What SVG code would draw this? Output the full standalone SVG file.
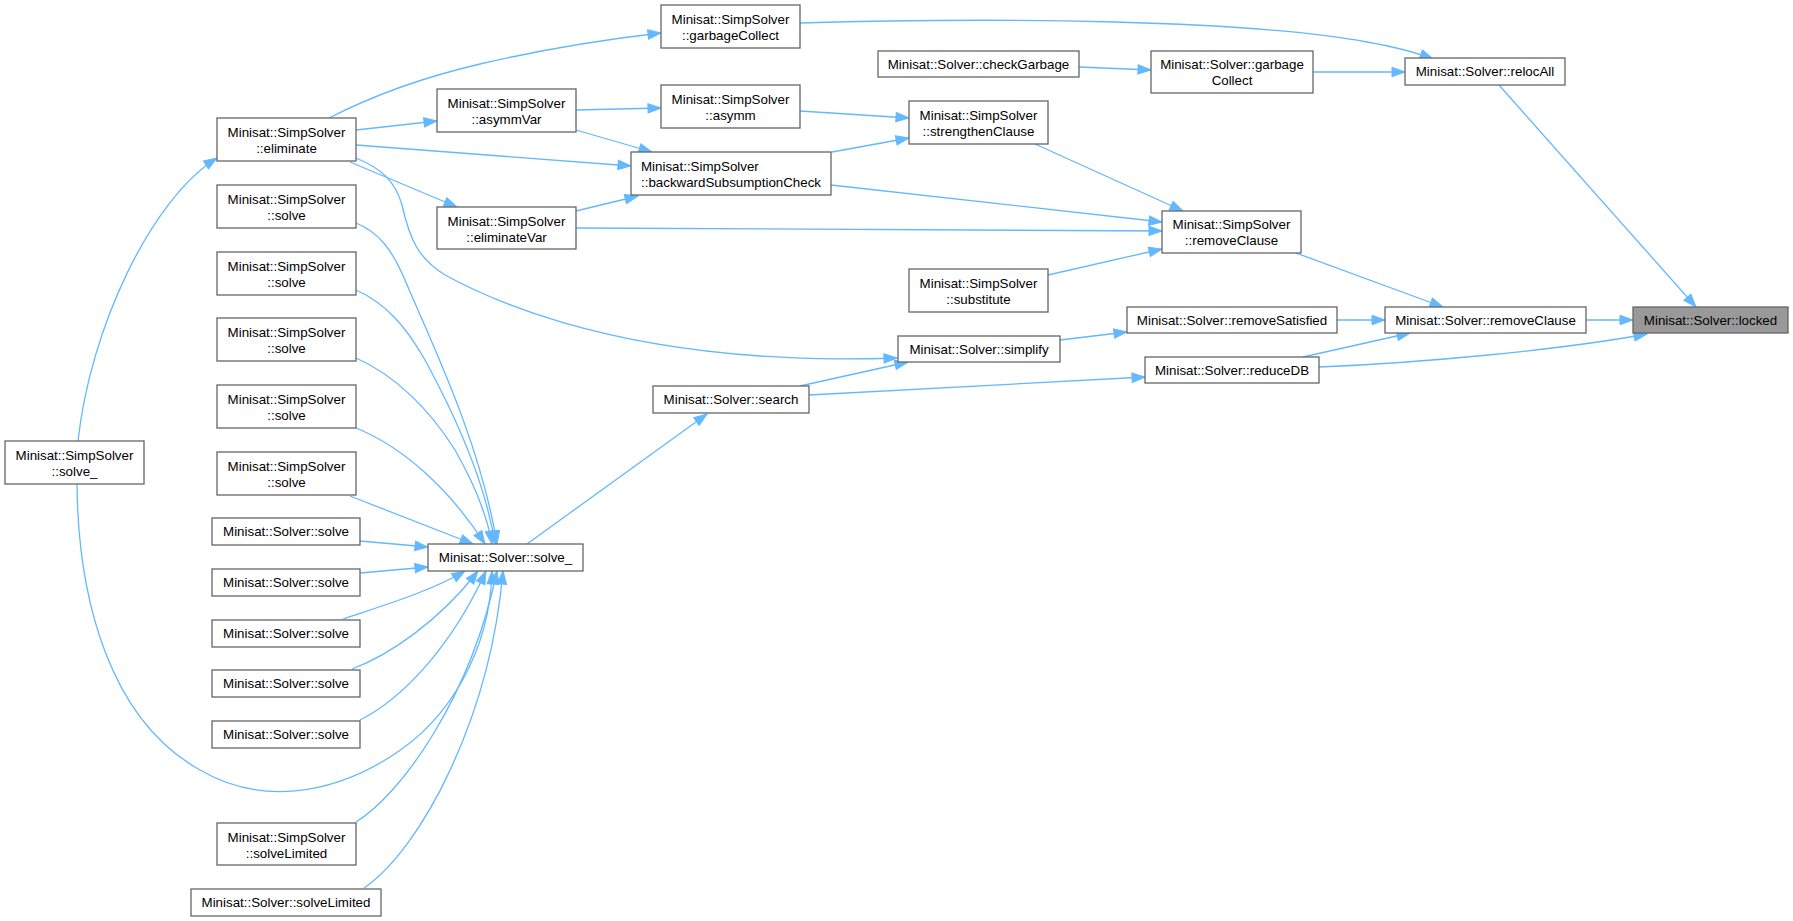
<svg xmlns="http://www.w3.org/2000/svg" width="1793" height="921" viewBox="0 0 1793 921">
<style>
.node rect{fill:#ffffff;stroke:#666666;stroke-width:1.3}
.node text{font-family:"Liberation Sans",Arial,sans-serif;font-size:13.33px;fill:#000000;text-anchor:middle}
.node text.l{text-anchor:start}
#n_locked rect{fill:#999999}
.edges path{fill:none;stroke:#63b8ff;stroke-width:1.3;marker-end:url(#arr)}
</style>
<defs>
<marker id="arr" markerUnits="userSpaceOnUse" markerWidth="14" markerHeight="10" refX="13" refY="4.7" orient="auto" overflow="visible">
<path d="M0,0 L13,4.7 L0,9.4 z" fill="#63b8ff" stroke="#63b8ff" stroke-width="1"/>
</marker>
</defs>
<rect width="1793" height="921" fill="#ffffff"/>
<g class="edges" id="edges">
<path d="M1499,85 L1696,307"/>
<path d="M1586,320 L1633,320"/>
<path d="M1319,367 C1420,363 1560,350 1647,334"/>
<path d="M800,23 C1000,17 1250,20 1367,42 C1395,47 1415,52 1433,59"/>
<path d="M1313,72 L1405,72"/>
<path d="M1079,67 L1151,70"/>
<path d="M1296,253 L1443,307"/>
<path d="M1337,320 L1385,320"/>
<path d="M1303,357 L1410,333"/>
<path d="M1035,144 L1183,211"/>
<path d="M831,185 L1162,222"/>
<path d="M576,228 C800,229 1000,230 1162,231"/>
<path d="M1048,275 L1162,249"/>
<path d="M800,111 L909,118"/>
<path d="M832,152 L909,138"/>
<path d="M1060,340 L1127,332"/>
<path d="M809,395 L1145,377"/>
<path d="M800,386 L908,362"/>
<path d="M356,158 C380,168 395,180 402,205 C410,240 418,258 445,275 C500,305 600,345 760,356 C820,360 860,359 897,358"/>
<path d="M356,130 L437,121"/>
<path d="M356,145 L631,166"/>
<path d="M350,162 L457,207"/>
<path d="M329,118 C370,97 420,78 480,64 C540,50 600,40 661,33"/>
<path d="M576,110 L661,108"/>
<path d="M576,130 L652,152"/>
<path d="M576,211 L638,196"/>
<path d="M527,544 L707,414"/>
<path d="M78,441 C90,330 150,200 217,158"/>
<path d="M77,484 C78,600 110,720 200,770 C260,805 330,795 390,757 C450,720 490,650 492,571"/>
<path d="M356,223 C380,233 392,250 405,280 C430,340 480,440 497,544"/>
<path d="M356,290 C385,303 405,325 425,360 C455,415 485,480 495,544"/>
<path d="M356,358 C395,375 430,410 455,450 C475,485 487,515 492,544"/>
<path d="M356,428 C405,448 450,490 485,544"/>
<path d="M350,496 L473,544"/>
<path d="M360,541 L428,547"/>
<path d="M360,573 L428,567"/>
<path d="M343,619 C375,608 430,592 465,571"/>
<path d="M352,669 C390,655 440,620 478,571"/>
<path d="M360,720 C400,700 450,650 486,571"/>
<path d="M356,822 C400,795 470,700 497,571"/>
<path d="M364,888 C420,850 490,720 503,571"/>
</g>
<g class="node" id="n_locked"><rect x="1633" y="307" width="155" height="26"/><text x="1710.5" y="325">Minisat::Solver::locked</text></g>
<g class="node" id="n_relocAll"><rect x="1405" y="58" width="160" height="27"/><text x="1485" y="76">Minisat::Solver::relocAll</text></g>
<g class="node" id="n_solver_removeClause"><rect x="1385" y="307" width="201" height="26"/><text x="1485.5" y="325">Minisat::Solver::removeClause</text></g>
<g class="node" id="n_solver_garbageCollect"><rect x="1151" y="51" width="162" height="42"/><text x="1232" y="69">Minisat::Solver::garbage</text><text x="1232" y="85">Collect</text></g>
<g class="node" id="n_simp_removeClause"><rect x="1162" y="211" width="139" height="42"/><text x="1231.5" y="229">Minisat::SimpSolver</text><text x="1231.5" y="245">::removeClause</text></g>
<g class="node" id="n_removeSatisfied"><rect x="1127" y="307" width="210" height="26"/><text x="1232" y="325">Minisat::Solver::removeSatisfied</text></g>
<g class="node" id="n_reduceDB"><rect x="1145" y="357" width="174" height="26"/><text x="1232" y="375">Minisat::Solver::reduceDB</text></g>
<g class="node" id="n_checkGarbage"><rect x="878" y="51" width="201" height="26"/><text x="978.5" y="69">Minisat::Solver::checkGarbage</text></g>
<g class="node" id="n_strengthenClause"><rect x="909" y="101" width="139" height="43"/><text x="978.5" y="120">Minisat::SimpSolver</text><text x="978.5" y="136">::strengthenClause</text></g>
<g class="node" id="n_substitute"><rect x="909" y="269" width="139" height="43"/><text x="978.5" y="288">Minisat::SimpSolver</text><text x="978.5" y="304">::substitute</text></g>
<g class="node" id="n_simplify"><rect x="898" y="336" width="162" height="26"/><text x="979" y="354">Minisat::Solver::simplify</text></g>
<g class="node" id="n_simp_garbageCollect"><rect x="661" y="5" width="139" height="43"/><text x="730.5" y="24">Minisat::SimpSolver</text><text x="730.5" y="40">::garbageCollect</text></g>
<g class="node" id="n_asymm"><rect x="661" y="85" width="139" height="43"/><text x="730.5" y="104">Minisat::SimpSolver</text><text x="730.5" y="120">::asymm</text></g>
<g class="node" id="n_backwardSubsumptionCheck"><rect x="631" y="152" width="200" height="43"/><text class="l" x="641" y="171">Minisat::SimpSolver</text><text class="l" x="641" y="187">::backwardSubsumptionCheck</text></g>
<g class="node" id="n_search"><rect x="653" y="386" width="156" height="27"/><text x="731" y="404">Minisat::Solver::search</text></g>
<g class="node" id="n_asymmVar"><rect x="437" y="89" width="139" height="43"/><text x="506.5" y="108">Minisat::SimpSolver</text><text x="506.5" y="124">::asymmVar</text></g>
<g class="node" id="n_eliminateVar"><rect x="437" y="207" width="139" height="42"/><text x="506.5" y="226">Minisat::SimpSolver</text><text x="506.5" y="242">::eliminateVar</text></g>
<g class="node" id="n_solver_solve_"><rect x="428" y="544" width="155" height="27"/><text x="505.5" y="562">Minisat::Solver::solve_</text></g>
<g class="node" id="n_eliminate"><rect x="217" y="118" width="139" height="43"/><text x="286.5" y="137">Minisat::SimpSolver</text><text x="286.5" y="153">::eliminate</text></g>
<g class="node" id="n_simp_solve1"><rect x="217" y="185" width="139" height="43"/><text x="286.5" y="204">Minisat::SimpSolver</text><text x="286.5" y="220">::solve</text></g>
<g class="node" id="n_simp_solve2"><rect x="217" y="252" width="139" height="43"/><text x="286.5" y="271">Minisat::SimpSolver</text><text x="286.5" y="287">::solve</text></g>
<g class="node" id="n_simp_solve3"><rect x="217" y="318" width="139" height="43"/><text x="286.5" y="337">Minisat::SimpSolver</text><text x="286.5" y="353">::solve</text></g>
<g class="node" id="n_simp_solve4"><rect x="217" y="385" width="139" height="43"/><text x="286.5" y="404">Minisat::SimpSolver</text><text x="286.5" y="420">::solve</text></g>
<g class="node" id="n_simp_solve5"><rect x="217" y="452" width="139" height="43"/><text x="286.5" y="471">Minisat::SimpSolver</text><text x="286.5" y="487">::solve</text></g>
<g class="node" id="n_solver_solve1"><rect x="212" y="518" width="148" height="27"/><text x="286" y="536">Minisat::Solver::solve</text></g>
<g class="node" id="n_solver_solve2"><rect x="212" y="569" width="148" height="27"/><text x="286" y="587">Minisat::Solver::solve</text></g>
<g class="node" id="n_solver_solve3"><rect x="212" y="620" width="148" height="27"/><text x="286" y="638">Minisat::Solver::solve</text></g>
<g class="node" id="n_solver_solve4"><rect x="212" y="670" width="148" height="27"/><text x="286" y="688">Minisat::Solver::solve</text></g>
<g class="node" id="n_solver_solve5"><rect x="212" y="721" width="148" height="27"/><text x="286" y="739">Minisat::Solver::solve</text></g>
<g class="node" id="n_simp_solveLimited"><rect x="217" y="823" width="139" height="42"/><text x="286.5" y="842">Minisat::SimpSolver</text><text x="286.5" y="858">::solveLimited</text></g>
<g class="node" id="n_solver_solveLimited"><rect x="191" y="889" width="190" height="27"/><text x="286" y="907">Minisat::Solver::solveLimited</text></g>
<g class="node" id="n_simp_solve_"><rect x="5" y="441" width="139" height="43"/><text x="74.5" y="460">Minisat::SimpSolver</text><text x="74.5" y="476">::solve_</text></g>
</svg>
